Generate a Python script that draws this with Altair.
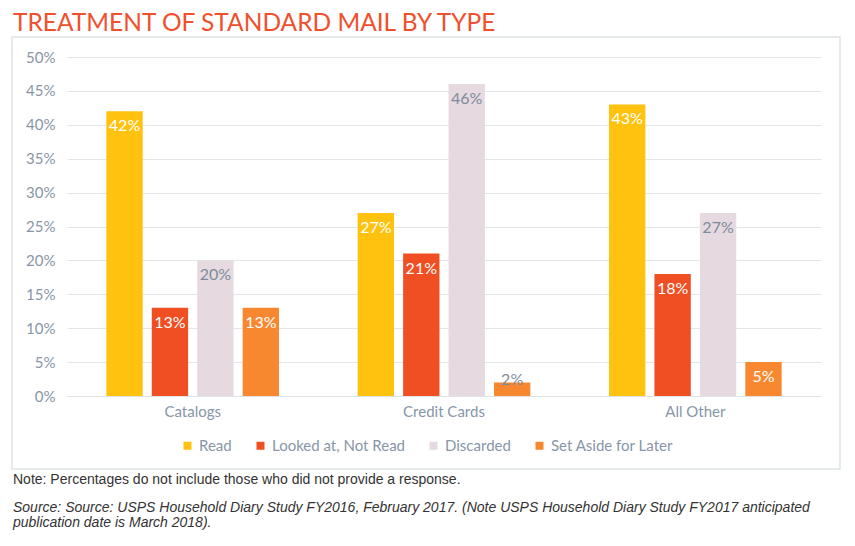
import altair as alt
import pandas as pd

categories = ["Catalogs", "Credit Cards", "All Other"]
types = ["Read", "Looked at, Not Read", "Discarded", "Set Aside for Later"]
read = [42, 27, 43]
looked = [13, 21, 18]
discarded = [20, 46, 27]
set_aside = [13, 2, 5]
colors = ["#FFC20E", "#F04E23", "#E6D9DF", "#F7882F"]
y_ticks = [0, 5, 10, 15, 20, 25, 30, 35, 40, 45, 50]

title_text = "TREATMENT OF STANDARD MAIL BY TYPE"
note_text = "Note: Percentages do not include those who did not provide a response."
source_1 = "Source: Source: USPS Household Diary Study FY2016, February 2017.  (Note USPS Household Diary Study FY2017 anticipated"
source_2 = "publication date is March 2018)."

rows = []
for series, t in zip([read, looked, discarded, set_aside], types):
    for c, v in zip(categories, series):
        rows.append({"Category": c, "Type": t, "Value": v})
df = pd.DataFrame(rows)

FONT = "Lato"
AXIS_COLOR = "#8796A8"
y_scale = alt.Scale(domain=[0, 50], nice=False)
x_scale = alt.Scale(paddingInner=0, paddingOuter=0)
xo_scale = alt.Scale(paddingInner=0.2, paddingOuter=0.866)

x_axis = alt.Axis(labelAngle=0, labelFontSize=15, labelColor=AXIS_COLOR,
                  labelFont=FONT, ticks=False, labelPadding=8,
                  domainColor="#DDE3E8", grid=False)
y_axis = alt.Axis(values=y_ticks, labelExpr="datum.value + '%'",
                  labelFontSize=15, labelColor=AXIS_COLOR, labelFont=FONT,
                  ticks=False, domain=False, labelPadding=12,
                  grid=True, labelOverlap=False,
                  gridColor="#E3E6E8", gridWidth=1)

base = alt.Chart(df)

bars = base.mark_bar().encode(
    x=alt.X("Category:N", sort=categories, title=None, scale=x_scale, axis=x_axis),
    xOffset=alt.XOffset("Type:N", sort=types, scale=xo_scale),
    y=alt.Y("Value:Q", title=None, scale=y_scale, axis=y_axis),
    color=alt.Color("Type:N", sort=types,
                    scale=alt.Scale(domain=types, range=colors),
                    legend=alt.Legend(title=None, orient="none", direction="horizontal",
                                      legendX=113, legendY=381, padding=0,
                                      symbolType="square", symbolSize=64,
                                      symbolStrokeWidth=0,
                                      labelFontSize=15, labelColor=AXIS_COLOR,
                                      labelFont=FONT, labelOffset=4,
                                      columnPadding=21)),
)

labels = base.transform_calculate(
    labelY="max(datum.Value, 4.5)",
    label="datum.Value + '%'",
).mark_text(baseline="middle", dy=15, fontSize=16, font=FONT).encode(
    x=alt.X("Category:N", sort=categories, title=None, scale=x_scale, axis=x_axis),
    xOffset=alt.XOffset("Type:N", sort=types, scale=xo_scale),
    y=alt.Y("labelY:Q", title=None, scale=y_scale, axis=y_axis),
    text="label:N",
    color=alt.condition(
        "datum.Type == 'Discarded' || datum.Value < 3",
        alt.value("#7D8C9C"), alt.value("white")),
)

box = alt.Chart(pd.DataFrame({"a": [0]})).mark_rect(
    fill=None, stroke="#DDE3E8", strokeWidth=1.5
).encode(x=alt.value(-55), x2=alt.value(773), y=alt.value(-20), y2=alt.value(412))

def text_line(txt, yv, size, color, italic=False, font="Liberation Sans, Arial"):
    return alt.Chart(pd.DataFrame({"t": [txt]})).mark_text(
        align="left", baseline="alphabetic", fontSize=size, font=font,
        fontStyle="italic" if italic else "normal", color=color
    ).encode(text="t:N", x=alt.value(-54), y=alt.value(yv))

chart = alt.layer(
    box, bars, labels,
    text_line(title_text, -26, 24.5, "#F0502D", font=FONT),
    text_line(note_text, 427, 14, "#333333"),
    text_line(source_1, 455, 14, "#333333", True),
    text_line(source_2, 470, 14, "#333333", True),
).properties(
    width=754, height=339,
    autosize=alt.AutoSizeParams(type="none"),
    padding={"left": 59, "top": 49, "right": 26, "bottom": 142},
).configure_view(stroke=None)

chart.save("out.html", embed_options={"renderer": "svg", "actions": False})
